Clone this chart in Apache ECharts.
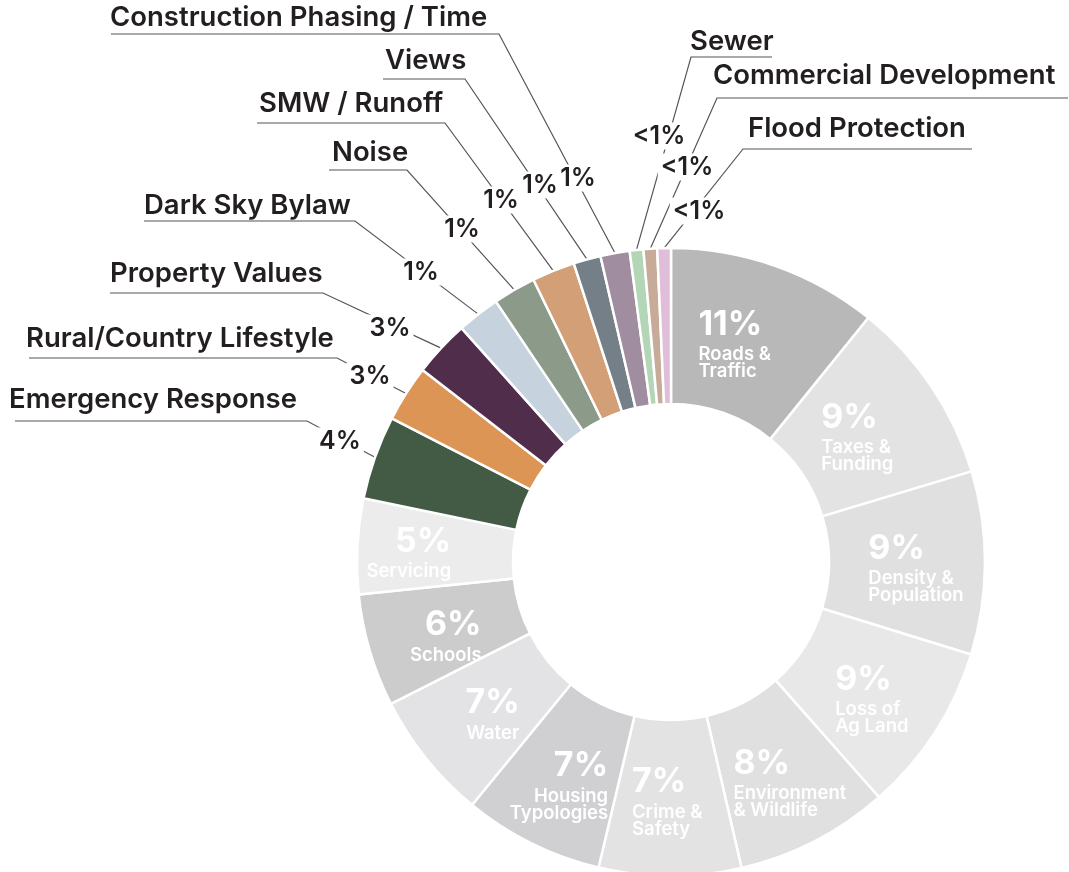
<!DOCTYPE html>
<html>
<head>
<meta charset="utf-8">
<script src="https://cdn.jsdelivr.net/npm/echarts@6/dist/echarts.min.js"></script>
<style>
html,body{margin:0;padding:0;background:#ffffff;}
#chart{width:1069px;height:872px;}
</style>
</head>
<body>
<div id="chart"></div>
<script>
// ---------------- data ----------------
const categories = [
  'Roads & Traffic', 'Taxes & Funding', 'Density & Population', 'Loss of Ag Land',
  'Environment & Wildlife', 'Crime & Safety', 'Housing Typologies', 'Water',
  'Schools', 'Servicing', 'Emergency Response', 'Rural/Country Lifestyle',
  'Property Values', 'Dark Sky Bylaw', 'Noise', 'SMW / Runoff', 'Views',
  'Construction Phasing / Time', 'Sewer', 'Commercial Development', 'Flood Protection'
];
// wrapped names used for labels inside the ring
const insideNames = [
  'Roads &\nTraffic', 'Taxes &\nFunding', 'Density &\nPopulation', 'Loss of\nAg Land',
  'Environment\n& Wildlife', 'Crime &\nSafety', 'Housing\nTypologies', 'Water',
  'Schools', 'Servicing'
];
// estimated shares (percent)
const shares = [10.8, 9.5, 9.4, 8.7, 7.9, 7.3, 7.2, 6.6, 5.8, 4.9,
                4.3, 2.9, 2.9, 2.2, 2.2, 2.2, 1.4, 1.5, 0.7, 0.7, 0.7];
// percentages as printed on the chart
const pctLabels = ['11%', '9%', '9%', '9%', '8%', '7%', '7%', '7%', '6%', '5%',
                   '4%', '3%', '3%', '1%', '1%', '1%', '1%', '1%', '<1%', '<1%', '<1%'];
const colors = ['#b8b8b8', '#e3e3e4', '#e0e0e0', '#e8e8e8', '#e0e0e1', '#e3e3e3',
                '#d0d0d2', '#e3e3e5', '#cccccd', '#ececec', '#435a45', '#dd9555',
                '#4f2d4b', '#c6d2de', '#8c9a89', '#d29f76', '#747f88', '#a08d9f',
                '#b3d6b6', '#c7aa98', '#e0bdd9'];

// ---------------- layout (positions / styles) ----------------
const FONT = 'Inter, "Open Sans", sans-serif';
const CENTER = [671, 562];
const RADIUS = [158, 314];
const N_INSIDE = 10;
const insideAlign = ['L', 'L', 'L', 'L', 'L', 'L', 'R', 'C', 'R', 'R'];
const insideOffset = [[-16, 5], [-12, 6], [6, 3], [0, 5], [9.5, 6], [-3, -2],
                      [-6, 7], [8, 0], [4, 4], [-23.5, 0]];
// outside labels: text left/centre-y, underline y and x-extent, elbow side, percent label centre
const outsideLayout = {
  10: {tx: 9,   ty: 400,  uy: 421, ux0: 15,  ux1: 307,  side: 'L', px: 340, py: 441},
  11: {tx: 26,  ty: 339,  uy: 358, ux0: 29,  ux1: 337,  side: 'L', px: 370, py: 376},
  12: {tx: 110, ty: 273.5,uy: 293, ux0: 110, ux1: 323,  side: 'L', px: 390, py: 328},
  13: {tx: 144, ty: 206,  uy: 221, ux0: 144, ux1: 355,  side: 'L', px: 421, py: 272},
  14: {tx: 332, ty: 152.5,uy: 170, ux0: 329, ux1: 407,  side: 'L', px: 462, py: 229},
  15: {tx: 259, ty: 103.5,uy: 123, ux0: 257, ux1: 445,  side: 'L', px: 501, py: 200},
  16: {tx: 385, ty: 61,   uy: 79,  ux0: 383, ux1: 465,  side: 'L', px: 540, py: 185},
  17: {tx: 110, ty: 17.5, uy: 34,  ux0: 111, ux1: 499,  side: 'L', px: 578, py: 178},
  18: {tx: 690, ty: 41.5, uy: 57,  ux0: 691, ux1: 772,  side: 'R', px: 659, py: 136},
  19: {tx: 713, ty: 76,   uy: 98,  ux0: 717, ux1: 1068, side: 'R', px: 687, py: 167},
  20: {tx: 748, ty: 129,  uy: 149, ux0: 743, ux1: 972,  side: 'R', px: 699, py: 211}
};

function richFor(k) {
  const a = k === 'L' ? 'left' : (k === 'R' ? 'right' : 'center');
  return {
    ['p' + k]: {fontFamily: FONT, fontSize: 34, fontWeight: 700, color: '#ffffff', align: a, lineHeight: 43},
    ['n' + k]: {fontFamily: FONT, fontSize: 18.5, fontWeight: 600, color: '#ffffff', align: a, lineHeight: 17}
  };
}
const rich = Object.assign({}, richFor('L'), richFor('R'), richFor('C'));

// ring with names + leader lines
const ringData = categories.map((name, i) => {
  const outside = i >= N_INSIDE;
  return {
    name: name,
    value: shares[i],
    itemStyle: {color: colors[i]},
    label: outside ? {
      show: true, position: 'outside', formatter: name,
      fontFamily: FONT, fontSize: 27.5, fontWeight: 600, color: '#231f20'
    } : {show: false},
    labelLine: outside ? {
      show: true, length: 10, length2: 10, smooth: false,
      lineStyle: {color: '#555555', width: 1.2}
    } : {show: false}
  };
});

// overlay: percentages and inside labels
const overlayData = categories.map((name, i) => {
  if (i < N_INSIDE) {
    const k = insideAlign[i];
    const lines = insideNames[i].split('\n').map(s => '{n' + k + '|' + s + '}').join('\n');
    return {
      name: name, value: shares[i],
      label: {show: true, position: 'inside', formatter: '{p' + k + '|' + pctLabels[i] + '}\n' + lines, rich: rich}
    };
  }
  return {
    name: name, value: shares[i],
    label: {
      show: true, position: 'outside', formatter: pctLabels[i],
      fontFamily: FONT, fontSize: 25, fontWeight: 600, color: '#231f20',
      backgroundColor: '#ffffff', padding: [1, 3]
    },
    labelLine: {show: false}
  };
});

const chart = echarts.init(document.getElementById('chart'), null, {renderer: 'canvas'});
chart.setOption({
  backgroundColor: '#ffffff',
  animation: false,
  series: [
    {
      type: 'pie', z: 2, silent: true,
      center: CENTER, radius: RADIUS, startAngle: 90, clockwise: true,
      avoidLabelOverlap: false,
      itemStyle: {borderColor: '#ffffff', borderWidth: 2.5},
      emphasis: {disabled: true},
      data: ringData,
      labelLayout: function (p) {
        const L = outsideLayout[p.dataIndex];
        if (!L || !p.labelLinePoints) return {};
        const start = p.labelLinePoints[0];
        const elbowX = L.side === 'L' ? L.ux1 : L.ux0;
        const endX = L.side === 'L' ? L.ux0 : L.ux1;
        return {
          x: L.tx, y: L.ty, align: 'left', verticalAlign: 'middle',
          labelLinePoints: [start, [elbowX, L.uy], [endX, L.uy]]
        };
      }
    },
    {
      type: 'pie', z: 5, silent: true,
      center: CENTER, radius: RADIUS, startAngle: 90, clockwise: true,
      avoidLabelOverlap: false,
      itemStyle: {color: 'rgba(0,0,0,0)', borderWidth: 0},
      emphasis: {disabled: true},
      labelLine: {show: false},
      data: overlayData,
      labelLayout: function (p) {
        if (p.dataIndex < N_INSIDE) {
          const o = insideOffset[p.dataIndex];
          return {dx: o[0], dy: o[1]};
        }
        const L = outsideLayout[p.dataIndex];
        return {x: L.px, y: L.py, align: 'center', verticalAlign: 'middle'};
      }
    }
  ]
});
</script>
</body>
</html>
